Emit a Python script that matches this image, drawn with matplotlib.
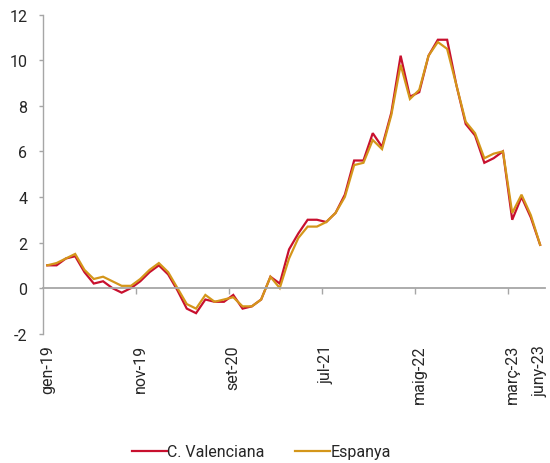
import matplotlib
matplotlib.use("Agg")
import matplotlib.pyplot as plt
import numpy as np

# monthly periods gen-19 .. juny-23 (Catalan month abbreviations)
months_ca = ["gen", "febr", "març", "abr", "maig", "juny",
             "jul", "ag", "set", "oct", "nov", "des"]
years = ["19", "20", "21", "22", "23"]
periods = [f"{m}-{y}" for y in years for m in months_ca][:54]

# year-on-year CPI change (%)
valenciana = [1.0, 1.0, 1.3, 1.4, 0.7, 0.2, 0.3, 0.0, -0.2, 0.0,
              0.3, 0.7, 1.0, 0.6, -0.1, -0.9, -1.1, -0.5, -0.6, -0.6,
              -0.3, -0.9, -0.8, -0.5, 0.5, 0.2, 1.7, 2.4, 3.0, 3.0,
              2.9, 3.3, 4.1, 5.6, 5.6, 6.8, 6.2, 7.7, 10.2, 8.4,
              8.6, 10.2, 10.9, 10.9, 8.9, 7.2, 6.7, 5.5, 5.7, 6.0,
              3.0, 4.0, 3.1, 1.9]
espanya = [1.0, 1.1, 1.3, 1.5, 0.8, 0.4, 0.5, 0.3, 0.1, 0.1,
           0.4, 0.8, 1.1, 0.7, 0.0, -0.7, -0.9, -0.3, -0.6, -0.5,
           -0.4, -0.8, -0.8, -0.5, 0.5, 0.0, 1.3, 2.2, 2.7, 2.7,
           2.9, 3.3, 4.0, 5.4, 5.5, 6.5, 6.1, 7.6, 9.8, 8.3,
           8.7, 10.2, 10.8, 10.5, 8.9, 7.3, 6.8, 5.7, 5.9, 6.0,
           3.3, 4.1, 3.2, 1.9]
y_ticks = [-2, 0, 2, 4, 6, 8, 10, 12]

plt.rcParams["font.family"] = ["Roboto", "DejaVu Sans"]

RED = "#C8102E"
GOLD = "#D4961A"
GREY = "#A6A6A6"
TXT = "#262626"

fig = plt.figure(figsize=(5.5, 4.64), dpi=100)
ax = fig.add_axes([0.0775, 0.2787, 0.9130, 0.6875])

x = np.arange(len(periods))
ax.plot(x, valenciana, color=RED, lw=1.6, label="C. Valenciana", solid_joinstyle="miter")
ax.plot(x, espanya, color=GOLD, lw=1.6, label="Espanya", solid_joinstyle="miter")

ax.set_xlim(-0.5, len(periods) - 0.5)
ax.set_ylim(-2, 12)
ax.set_yticks(y_ticks)
ax.set_yticklabels([str(v) for v in y_ticks])

# axis styling: zero line acts as category axis
for s in ["top", "right"]:
    ax.spines[s].set_visible(False)
ax.spines["left"].set_color(GREY)
ax.spines["left"].set_linewidth(1.0)
ax.spines["bottom"].set_position(("data", 0))
ax.spines["bottom"].set_color(GREY)
ax.spines["bottom"].set_linewidth(1.3)

# tick marks between categories every 10 months
ax.set_xticks(np.arange(9.5, len(periods) - 1, 10))
ax.set_xticklabels([])
ax.tick_params(axis="x", direction="out", length=4, width=1.0, color=GREY)
ax.tick_params(axis="y", direction="out", length=3, width=1.0, color=GREY,
               labelsize=11.5, labelcolor=TXT, pad=8)

# category labels at the bottom, rotated
label_idx = list(range(0, len(periods), 10)) + [len(periods) - 1]
for i in label_idx:
    ax.text(x[i], -0.032, periods[i], transform=ax.get_xaxis_transform(),
            rotation=90, ha="center", va="top", fontsize=11.5, color=TXT)

fig.legend(loc="center", bbox_to_anchor=(0.4755, 0.0244), ncol=2, frameon=False,
           fontsize=11.5, handlelength=2.2, handletextpad=0.0, columnspacing=1.9,
           labelcolor=TXT)

fig.savefig("out.png", dpi=100)
